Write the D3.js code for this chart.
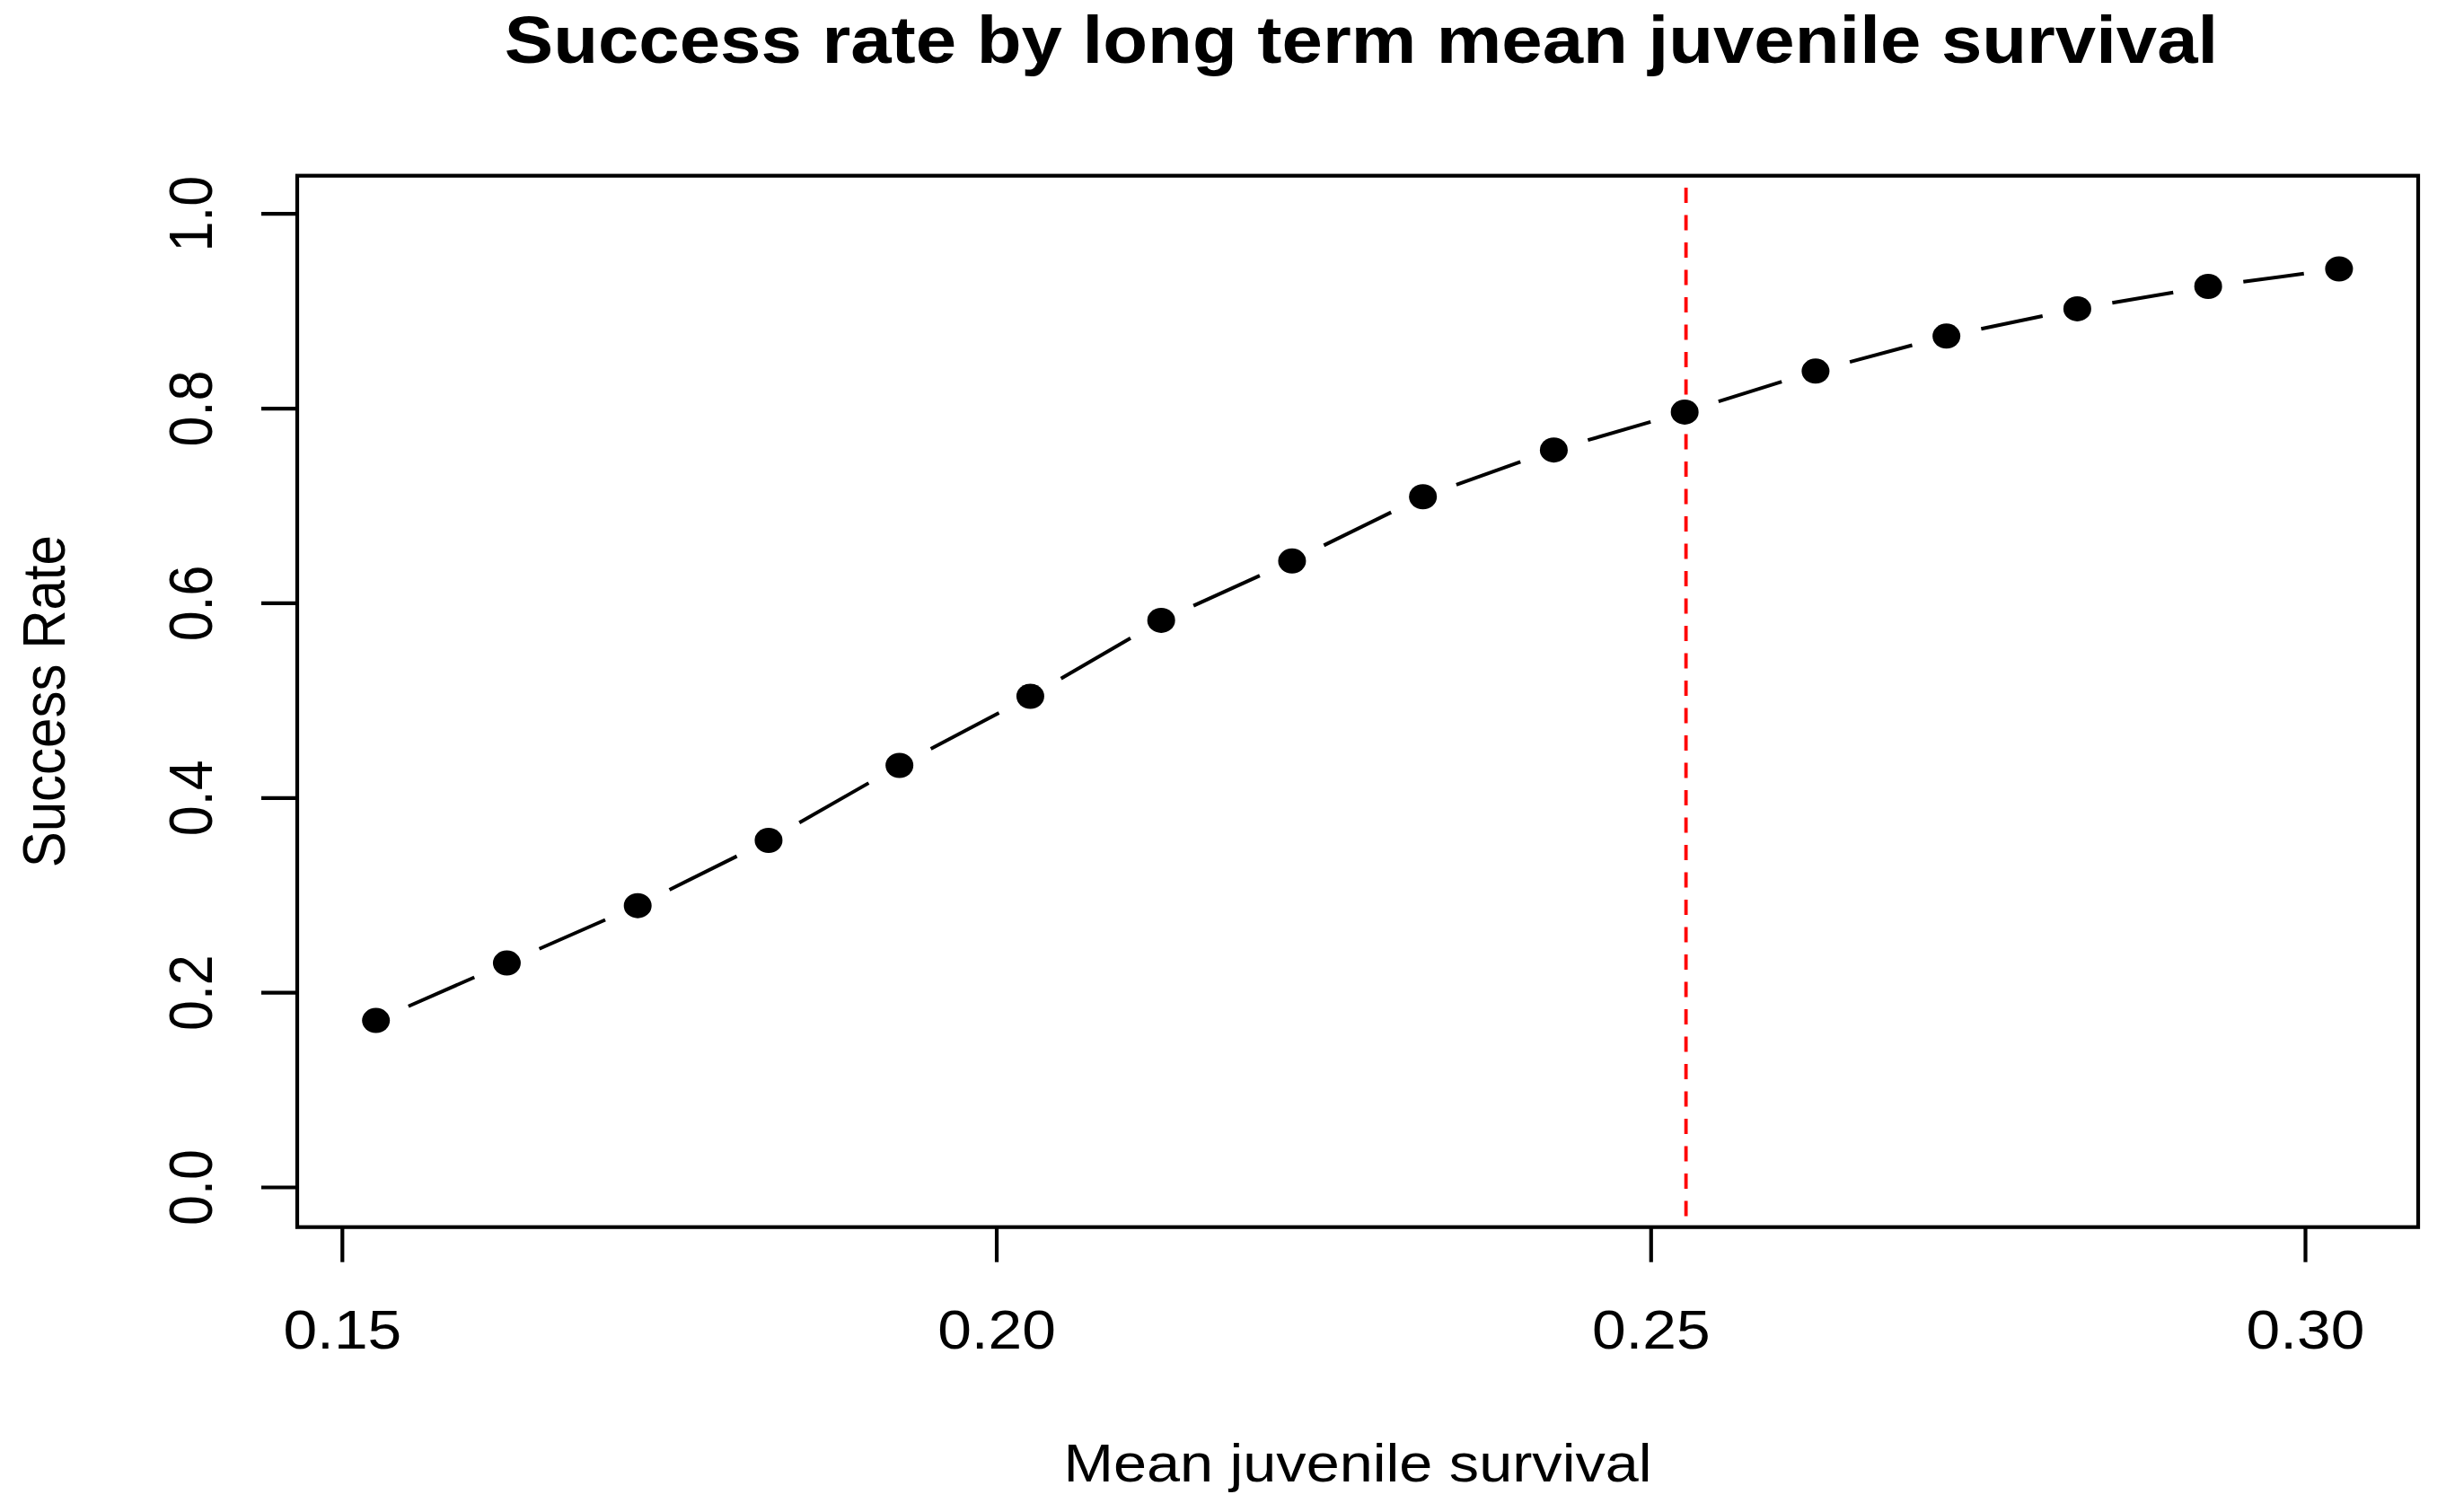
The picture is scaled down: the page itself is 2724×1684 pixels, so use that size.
<!DOCTYPE html>
<html>
<head>
<meta charset="utf-8">
<script src="https://cdn.jsdelivr.net/npm/d3@7"></script>
<style>
  html, body { margin: 0; padding: 0; background: #fff; }
  text { font-family: "Liberation Sans", Arial, sans-serif; fill: #000; }
</style>
</head>
<body>
<div id="main"></div>
<script>
// values
const survival = [0.1526, 0.1626, 0.1726, 0.1826, 0.1926, 0.2026, 0.2126, 0.2226,
                  0.2326, 0.2426, 0.2526, 0.2626, 0.2726, 0.2826, 0.2926, 0.3026];
const successRate = [0.171, 0.230, 0.289, 0.356, 0.433, 0.504, 0.582, 0.643,
                     0.709, 0.757, 0.796, 0.838, 0.874, 0.902, 0.925, 0.943];
const xTicks = [0.15, 0.20, 0.25, 0.30];
const yTicks = [0.0, 0.2, 0.4, 0.6, 0.8, 1.0];
const refSurvival = 0.2527;

const titleText = "Success rate by long term mean juvenile survival";
const xLabel = "Mean juvenile survival";
const yLabel = "Success Rate";

const config = {width: 2724, height: 1684, left: 331, right: 2693, top: 195.7, bottom: 1366.7};
const stretch = 1.11;   // the source picture is a little wider than tall

const svg = d3.select("#main")
  .append("svg")
  .attr("width", config.width)
  .attr("height", config.height);

const xScale = d3.scaleLinear().domain([0.15, 0.30]).range([380.8, 2567]);
const yScale = d3.scaleLinear().domain([0, 1]).range([1322, 237.7]);

// plot box
svg.append("rect")
  .attr("x", config.left)
  .attr("y", config.top)
  .attr("width", config.right - config.left)
  .attr("height", config.bottom - config.top)
  .attr("fill", "none")
  .attr("stroke", "#000")
  .attr("stroke-width", 4.2);

// axes, R style: ticks outside, no domain line beyond the box
const xAxis = d3.axisBottom(xScale).tickValues(xTicks).tickSize(39).tickFormat(d3.format(".2f"));
const yAxis = d3.axisLeft(yScale).tickValues(yTicks).tickSize(40).tickFormat(d3.format(".1f"));

const gx = svg.append("g")
  .attr("transform", `translate(0,${config.bottom})`)
  .call(xAxis);
gx.select(".domain").remove();
gx.selectAll(".tick line").attr("stroke", "#000").attr("stroke-width", 4.2);
gx.selectAll(".tick text").remove();
gx.selectAll(".tick").append("text")
  .attr("transform", `translate(0,${1502 - config.bottom}) scale(${stretch},1)`)
  .attr("text-anchor", "middle")
  .attr("font-size", 61)
  .text(d => d3.format(".2f")(d));

const gy = svg.append("g")
  .attr("transform", `translate(${config.left},0)`)
  .call(yAxis);
gy.select(".domain").remove();
gy.selectAll(".tick line").attr("stroke", "#000").attr("stroke-width", 4.2);
gy.selectAll(".tick text").remove();
gy.selectAll(".tick").append("text")
  .attr("transform", `translate(${236 - config.left},0) scale(${stretch},1) rotate(-90)`)
  .attr("text-anchor", "middle")
  .attr("font-size", 61)
  .text(d => d3.format(".1f")(d));

// reference line
svg.append("line")
  .attr("x1", xScale(refSurvival))
  .attr("x2", xScale(refSurvival))
  .attr("y1", config.top)
  .attr("y2", config.bottom)
  .attr("stroke", "#ff0000")
  .attr("stroke-width", 3.8)
  .attr("stroke-dasharray", "17,13.5")
  .attr("stroke-dashoffset", 17.2);

// type = "b": line segments that stop short of the points
const points = survival.map((d, i) => ({x: xScale(d), y: yScale(successRate[i])}));
const gap = 39.5;
const segments = d3.pairs(points).map(([a, b]) => {
  const dx = b.x - a.x, dy = b.y - a.y;
  const len = Math.sqrt(dx * dx + dy * dy);
  const ux = dx / len, uy = dy / len;
  return {x1: a.x + ux * gap, y1: a.y + uy * gap, x2: b.x - ux * gap, y2: b.y - uy * gap};
});

svg.append("g")
  .selectAll("line")
  .data(segments)
  .join("line")
  .attr("x1", d => d.x1)
  .attr("y1", d => d.y1)
  .attr("x2", d => d.x2)
  .attr("y2", d => d.y2)
  .attr("stroke", "#000")
  .attr("stroke-width", 4);

svg.append("g")
  .selectAll("ellipse")
  .data(points)
  .join("ellipse")
  .attr("cx", d => d.x)
  .attr("cy", d => d.y)
  .attr("rx", 15.5)
  .attr("ry", 14)
  .attr("fill", "#000");

// titles
const midX = (config.left + config.right) / 2;
svg.append("text")
  .attr("transform", `translate(${midX + 4},70) scale(${stretch},1)`)
  .attr("text-anchor", "middle")
  .attr("font-size", 73.5)
  .attr("font-weight", "bold")
  .text(titleText);

svg.append("text")
  .attr("transform", `translate(${midX},1650) scale(${stretch},1)`)
  .attr("text-anchor", "middle")
  .attr("font-size", 60)
  .text(xLabel);

svg.append("text")
  .attr("transform", `translate(72,${(config.top + config.bottom) / 2}) scale(${stretch},1) rotate(-90)`)
  .attr("text-anchor", "middle")
  .attr("font-size", 60)
  .text(yLabel);
</script>
</body>
</html>
